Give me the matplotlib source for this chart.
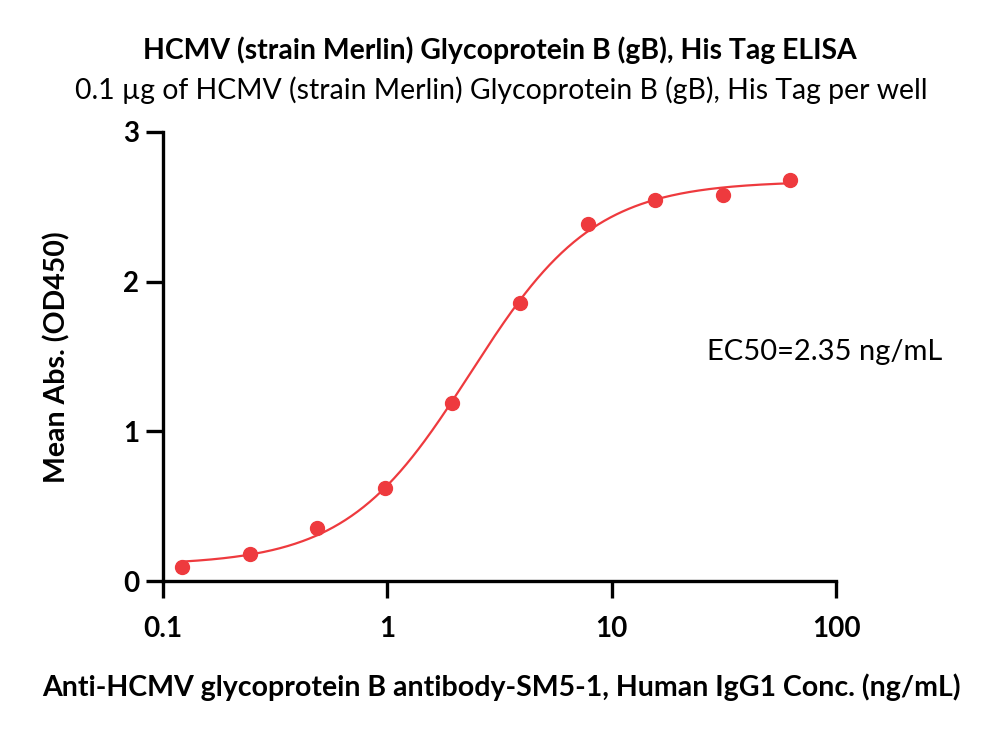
import numpy as np
import matplotlib
matplotlib.use("Agg")
import matplotlib.pyplot as plt
from matplotlib.ticker import FixedLocator, NullLocator

# Data
conc = [0.122, 0.244, 0.488, 0.977, 1.95, 3.91, 7.81, 15.6, 31.25, 62.5]
absorb = [0.094, 0.18, 0.354, 0.62, 1.19, 1.86, 2.385, 2.545, 2.58, 2.68]
x_ticks = [0.1, 1, 10, 100]
x_tick_labels = ["0.1", "1", "10", "100"]
y_ticks = [0, 1, 2, 3]
title = "HCMV (strain Merlin) Glycoprotein B (gB), His Tag ELISA"
subtitle = "0.1 \u00b5g of HCMV (strain Merlin) Glycoprotein B (gB), His Tag per well"
xlabel = "Anti-HCMV glycoprotein B antibody-SM5-1, Human IgG1 Conc. (ng/mL)"
ylabel = "Mean Abs. (OD450)"
annot = "EC50=2.35 ng/mL"

RED = "#ee3a3e"

# 4PL fit: grid over logEC50 and hill, linear LS for bottom/top
xd = np.array(conc); yd = np.array(absorb)
best = None
for lec in np.linspace(-0.5, 1.5, 401):
    for h in np.linspace(0.5, 3.0, 251):
        s = 1.0 / (1.0 + (10**lec / xd) ** h)
        A = np.column_stack([1 - s, s])
        coef, *_ = np.linalg.lstsq(A, yd, rcond=None)
        r = np.sum((A @ coef - yd) ** 2)
        if best is None or r < best[0]:
            best = (r, lec, h, coef)
_, lec, h, (bot, top) = best
xf = np.logspace(np.log10(conc[0]), np.log10(conc[-1]), 400)
yf = bot + (top - bot) / (1.0 + (10**lec / xf) ** h)

plt.rcParams['font.family'] = ['Lato', 'DejaVu Sans']
fig = plt.figure(figsize=(10, 7.34), dpi=100)
ax = fig.add_axes([0.163, 0.2084, 0.673, 0.6118])
ax.plot(xf, yf, color=RED, lw=1.6, zorder=2)
ax.plot(conc, absorb, 'o', color=RED, ms=10, mec=RED, zorder=3)
ax.set_xscale('log')
ax.set_xlim(0.1, 100)
ax.set_ylim(0, 3)
ax.xaxis.set_major_locator(FixedLocator(x_ticks))
ax.xaxis.set_minor_locator(NullLocator())
ax.set_xticklabels(x_tick_labels)
ax.set_yticks(y_ticks)
for s in ['top', 'right']:
    ax.spines[s].set_visible(False)
for s in ['left', 'bottom']:
    ax.spines[s].set_linewidth(2.4)
ax.tick_params(axis='both', width=2.4, length=12, labelsize=20)
ax.tick_params(axis='x', pad=13)
ax.tick_params(axis='y', pad=5)
for lab in ax.get_xticklabels() + ax.get_yticklabels():
    lab.set_fontweight('bold')
fig.text(0.5015, 1 - 687 / 734, xlabel, ha='center', va='center', fontsize=20.5, fontweight='bold')
fig.text(0.057, 1 - 357 / 734, ylabel, ha='center', va='center', fontsize=20.5,
         fontweight='bold', rotation=90)
fig.text(0.707, 1 - 352 / 734, annot, ha='left', va='center', fontsize=21)
fig.text(0.5, 1 - 50 / 734, title, ha='center', va='center', fontsize=20.4, fontweight='bold')
fig.text(0.501, 1 - 90 / 734, subtitle, ha='center', va='center', fontsize=20.4)
fig.savefig("out.png", dpi=100)
